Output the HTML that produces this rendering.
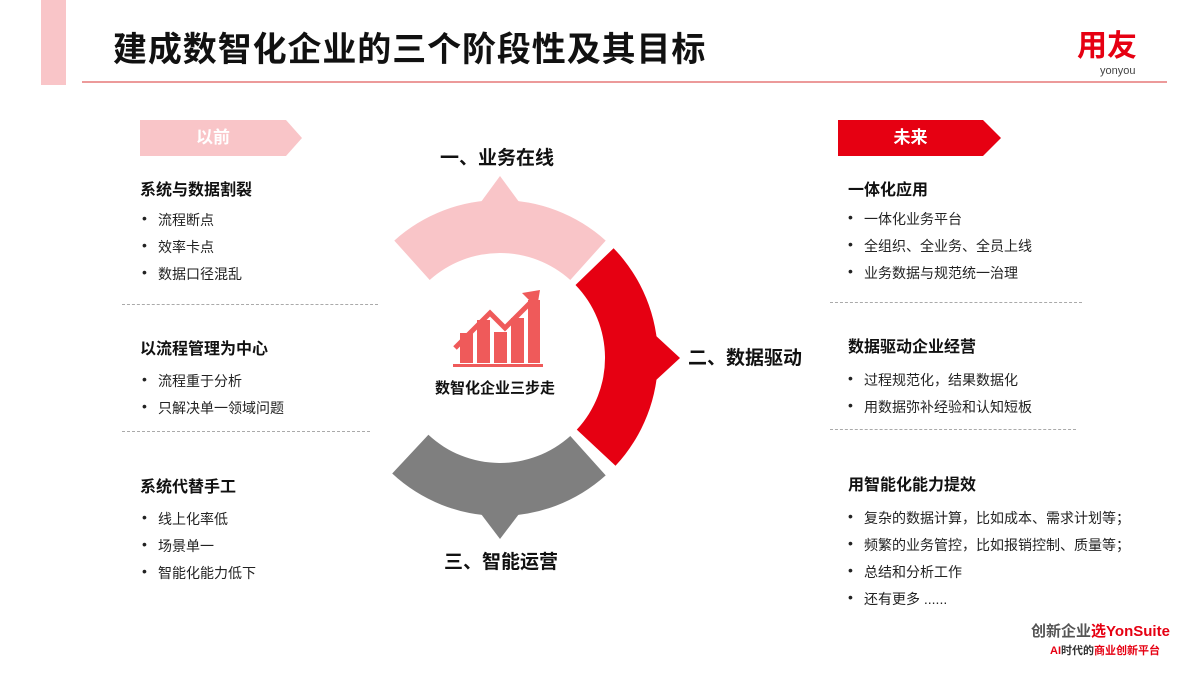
<!DOCTYPE html>
<html><head><meta charset="utf-8"><style>
body{margin:0;width:1200px;height:675px;background:#fff;position:relative;overflow:hidden;font-family:"Liberation Sans","Noto Sans CJK SC",sans-serif;color:#111}
.a{position:absolute;white-space:nowrap}
.t{font-weight:bold;font-size:16px}
.b{font-size:14px;color:#222}
.b:before{content:"•";position:absolute;left:-16px}
.d{position:absolute;border-top:1.5px dashed #aaa;height:0}
</style></head><body>
<div class="a" style="left:41px;top:0;width:25px;height:85px;background:#f9c5c8"></div>
<div class="a" style="left:82px;top:81px;width:1085px;height:1.5px;background:#ec9a9a"></div>
<div class="a" style="left:113px;top:29px;font-size:34px;font-weight:bold;line-height:42px;letter-spacing:0.9px">建成数智化企业的三个阶段性及其目标</div>
<div class="a" style="left:1077px;top:30px;font-size:30px;font-weight:bold;color:#e60012;line-height:34px">用友</div>
<div class="a" style="left:1100px;top:65px;font-size:11px;color:#444">yonyou</div>

<svg class="a" style="left:0;top:0" width="1200" height="675">
<polygon points="140,120 286,120 302,138 286,156 140,156" fill="#f9c5c8"/>
<polygon points="838,120 983,120 1001,138 983,156 838,156" fill="#e60012"/>
<path d="M394.3 240.6 A158 158 0 0 1 605.7 240.6 L570.3 280 A105 105 0 0 0 429.7 280 Z" fill="#f9c5c8"/>
<polygon points="478,206 500,176 522,206" fill="#f9c5c8"/>
<path d="M613.6 248.2 A158 158 0 0 1 615.5 465.8 L576.8 429.6 A105 105 0 0 0 575.5 285 Z" fill="#e60012"/>
<polygon points="654,334 680,358 654,382" fill="#e60012"/>
<path d="M605.7 475.4 A158 158 0 0 1 392.2 473.5 L428.4 434.8 A105 105 0 0 0 570.3 436 Z" fill="#7f7f7f"/>
<polygon points="478,510 500,539 522,510" fill="#7f7f7f"/>
<g fill="#ef5a5a">
<rect x="460" y="333" width="13" height="30"/><rect x="477" y="320" width="13" height="43"/>
<rect x="494" y="332" width="13" height="31"/><rect x="511" y="318" width="13" height="45"/>
<rect x="528" y="300" width="12" height="63"/>
<rect x="453" y="364" width="90" height="3"/>
<polyline points="455,348 490,313 505,328 535,298" fill="none" stroke="#ef5a5a" stroke-width="5"/>
<polygon points="522,293 540,290 537,308" />
</g>
</svg>
<div class="a" style="left:140px;top:126px;width:146px;text-align:center;color:#fff;font-size:17px;font-weight:bold;line-height:24px">以前</div>
<div class="a" style="left:838px;top:126px;width:145px;text-align:center;color:#fff;font-size:17px;font-weight:bold;line-height:24px">未来</div>
<div class="a" style="left:440px;top:143px;font-size:19px;font-weight:bold">一、业务在线</div>
<div class="a" style="left:688px;top:343px;font-size:19px;font-weight:bold">二、数据驱动</div>
<div class="a" style="left:444px;top:547px;font-size:19px;font-weight:bold">三、智能运营</div>
<div class="a" style="left:435px;top:377px;font-size:15px;font-weight:bold">数智化企业三步走</div>

<div class="a t" style="left:140px;top:176px">系统与数据割裂</div>
<div class="a b" style="left:158px;top:210px">流程断点</div>
<div class="a b" style="left:158px;top:237px">效率卡点</div>
<div class="a b" style="left:158px;top:264px">数据口径混乱</div>
<div class="d" style="left:122px;top:304px;width:256px"></div>
<div class="a t" style="left:140px;top:335px">以流程管理为中心</div>
<div class="a b" style="left:158px;top:371px">流程重于分析</div>
<div class="a b" style="left:158px;top:398px">只解决单一领域问题</div>
<div class="d" style="left:122px;top:431px;width:248px"></div>
<div class="a t" style="left:140px;top:473px">系统代替手工</div>
<div class="a b" style="left:158px;top:509px">线上化率低</div>
<div class="a b" style="left:158px;top:536px">场景单一</div>
<div class="a b" style="left:158px;top:563px">智能化能力低下</div>

<div class="a t" style="left:848px;top:176px">一体化应用</div>
<div class="a b" style="left:864px;top:209px">一体化业务平台</div>
<div class="a b" style="left:864px;top:236px">全组织、全业务、全员上线</div>
<div class="a b" style="left:864px;top:263px">业务数据与规范统一治理</div>
<div class="d" style="left:830px;top:302px;width:252px"></div>
<div class="a t" style="left:848px;top:333px">数据驱动企业经营</div>
<div class="a b" style="left:864px;top:370px">过程规范化，结果数据化</div>
<div class="a b" style="left:864px;top:397px">用数据弥补经验和认知短板</div>
<div class="d" style="left:830px;top:429px;width:246px"></div>
<div class="a t" style="left:848px;top:471px">用智能化能力提效</div>
<div class="a b" style="left:864px;top:508px">复杂的数据计算，比如成本、需求计划等；</div>
<div class="a b" style="left:864px;top:535px">频繁的业务管控，比如报销控制、质量等；</div>
<div class="a b" style="left:864px;top:562px">总结和分析工作</div>
<div class="a b" style="left:864px;top:589px">还有更多 ......</div>

<div class="a" style="left:1031px;top:620px;font-size:15px;color:#555;font-weight:bold">创新企业<span style="color:#e60012">选YonSuite</span></div>
<div class="a" style="left:1050px;top:642px;font-size:11px;color:#333;font-weight:bold"><span style="color:#e60012">AI</span>时代的<span style="color:#e60012">商业创新平台</span></div>
</body></html>
